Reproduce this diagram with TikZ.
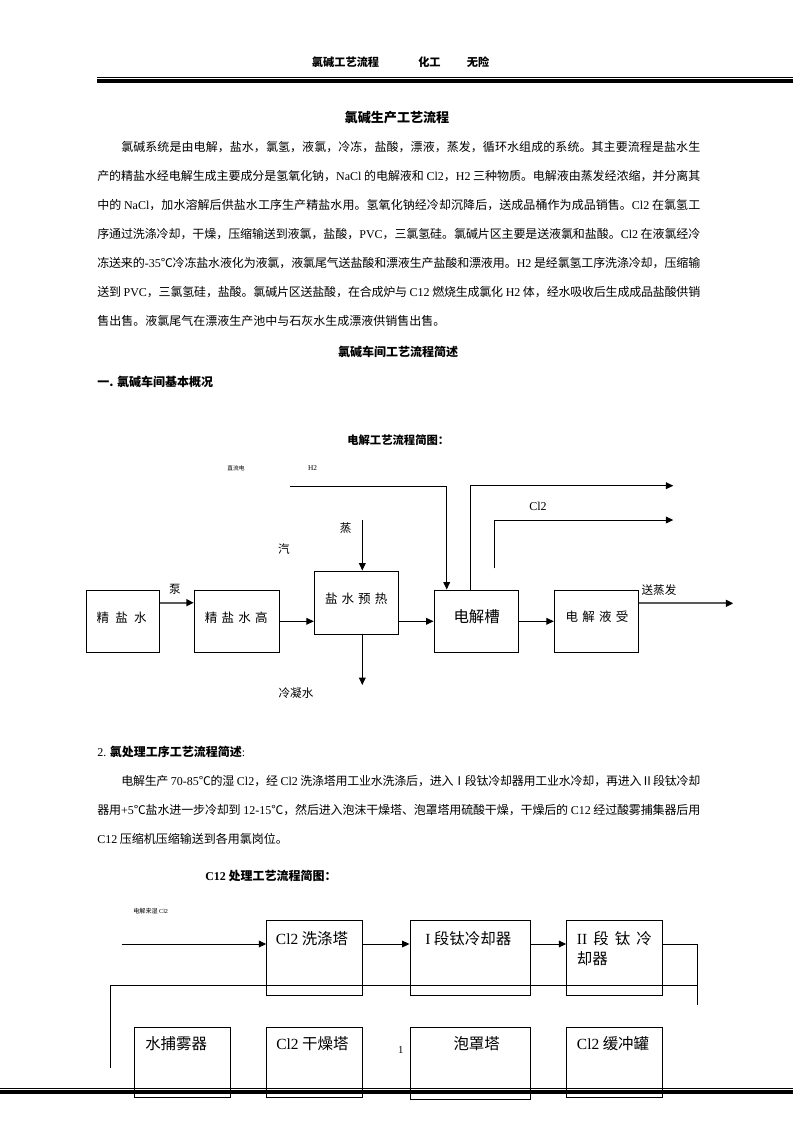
\documentclass[tikz,border=0pt]{standalone}
\usepackage{fontspec}
\setmainfont{Noto Sans CJK SC}
\newfontfamily\serf{Liberation Serif}
\usetikzlibrary{arrows.meta,fit,calc}
\newcommand\E[1]{{\serf #1}}
\XeTeXlinebreaklocale "zh"
\XeTeXlinebreakskip=0pt plus 3pt minus 1pt
\tolerance=9999
\tikzset{
  box/.style={draw=black,line width=0.75pt,inner sep=0pt},
  ln/.style={draw=black,line width=0.75pt},
  arr/.style={ln,-{Triangle[length=5.5pt,width=5pt]}},
  garr/.style={draw=black!65,line width=1.6pt,-{Triangle[length=5.5pt,width=5pt,color=black]}},
  txt/.style={inner sep=0pt,font=\fontsize{8.7pt}{10pt}\selectfont},
  btxt/.style={inner sep=0pt,font=\fontsize{9.4pt}{11pt}\selectfont},
  bigtxt/.style={inner sep=0pt,anchor=west,font=\fontsize{11.6pt}{14pt}\selectfont},
  head/.style={inner sep=0pt,font=\fontsize{9pt}{11pt}\selectfont\bfseries},
  para/.style={inner sep=0pt,anchor=base west,text width=452.25pt,align=justify,font=\fontsize{9pt}{21.75pt}\selectfont},
}
\begin{document}
\begin{tikzpicture}[x=0.75pt,y=-0.75pt]
\useasboundingbox (0,0) rectangle (793,1122);
\fill[white] (0,0) rectangle (793,1122);

% ---- page header ----
\node[inner sep=0pt,anchor=west,font=\fontsize{8.4pt}{10pt}\selectfont\bfseries] (h1) at (311.7,62) {氯碱工艺流程};
\node[inner sep=0pt,anchor=west,font=\fontsize{8.4pt}{10pt}\selectfont\bfseries] (h2) at (418,62) {化工};
\node[inner sep=0pt,anchor=west,font=\fontsize{8.4pt}{10pt}\selectfont\bfseries] (h3) at (466.7,62) {无险};
\draw[line width=0.75pt] (97,77.2) -- (793,77.2);
\draw[line width=2.7pt] (97,81) -- (793,81);

% ---- first text block ----
\node[head,font=\fontsize{9.8pt}{12pt}\selectfont\bfseries] (t0) at (397,118) {氯碱生产工艺流程};
\node[para] (p1) at (97,151.5) {\hspace*{2em}氯碱系统是由电解，盐水，氯氢，液氯，冷冻，盐酸，漂液，蒸发，循环水组成的系统。其主要流程是盐水生\linebreak
产的精盐水经电解生成主要成分是氢氧化钠，\E{NaCl} 的电解液和 \E{Cl2}，\E{H2} 三种物质。电解液由蒸发经浓缩，并分离其\linebreak
中的 \E{NaCl}，加水溶解后供盐水工序生产精盐水用。氢氧化钠经冷却沉降后，送成品桶作为成品销售。\E{Cl2} 在氯氢工\linebreak
序通过洗涤冷却，干燥，压缩输送到液氯，盐酸，\E{PVC}，三氯氢硅。氯碱片区主要是送液氯和盐酸。\E{Cl2} 在液氯经冷\linebreak
冻送来的\E{-35}℃冷冻盐水液化为液氯，液氯尾气送盐酸和漂液生产盐酸和漂液用。\E{H2} 是经氯氢工序洗涤冷却，压缩输\linebreak
送到 \E{PVC}，三氯氢硅，盐酸。氯碱片区送盐酸，在合成炉与 \E{C12} 燃烧生成氯化 \E{H2} 体，经水吸收后生成成品盐酸供销\linebreak
售出售。液氯尾气在漂液生产池中与石灰水生成漂液供销售出售。};
\node[head] (t1) at (398,352) {氯碱车间工艺流程简述};
\node[head,anchor=west] (t2) at (97,382) {一. 氯碱车间基本概况};

% ---- diagram 1 ----
\node[head,anchor=west,font=\fontsize{8.5pt}{10pt}\selectfont\bfseries] (t3) at (347,440) {电解工艺流程简图：};

\coordinate (a1) at (86,590);    \coordinate (b1) at (159,652.7);
\coordinate (a2) at (194.3,590); \coordinate (b2) at (279,652.7);
\coordinate (a3) at (314.3,571); \coordinate (b3) at (398.3,634.3);
\coordinate (a4) at (434,590);   \coordinate (b4) at (518.7,652.7);
\coordinate (a5) at (554.3,590); \coordinate (b5) at (638.3,652.7);
\node[box,fit=(a1)(b1)] (jy) {};
\node[box,fit=(a2)(b2)] (jyg) {};
\node[box,fit=(a3)(b3)] (ysr) {};
\node[box,fit=(a4)(b4)] (djc) {};
\node[box,fit=(a5)(b5)] (djy) {};

\node[btxt] (tjy) at (121.7,617.7) {\hbox to 37.5pt{精\hfil 盐\hfil 水}};
\node[btxt] (tjyg) at (236.3,617.7) {\hbox to 47pt{精\hfil 盐\hfil 水\hfil 高}};
\node[btxt] (tysr) at (356.2,598.3) {\hbox to 46.8pt{盐\hfil 水\hfil 预\hfil 热}};
\node[inner sep=0pt,font=\fontsize{11.6pt}{14pt}\selectfont] (tdjc) at (476.7,616.7) {电解槽};
\node[btxt] (tdjy) at (597,616.7) {\hbox to 47pt{电\hfil 解\hfil 液\hfil 受}};

\node[txt] (lb) at (175,589) {泵};
\node[txt] (lz) at (345.7,528) {蒸};
\node[txt] (lq) at (284,549) {汽};
\node[txt] (ll) at (296,693) {冷凝水};
\node[txt] (ls) at (659,590) {送蒸发};
\node[inner sep=0pt,font=\fontsize{9pt}{10pt}\selectfont\serf] (lc) at (538,506.7) {Cl2};
\node[inner sep=0pt,font=\fontsize{5.5pt}{6pt}\selectfont\serf] (lh) at (312.5,468) {H2};
\node[inner sep=0pt,font=\fontsize{4.3pt}{5pt}\selectfont] (ld) at (236,468) {直流电};

\coordinate (y1) at (0,602.7);
\coordinate (y2) at (0,621.3);
\coordinate (st) at (362.3,520);
\coordinate (cw) at (362.3,685);
\coordinate (h2s) at (290,486);
\coordinate (h2x) at (446.7,0);
\coordinate (o1x) at (470,0);
\coordinate (o1) at (673.3,485.7);
\coordinate (c2s) at (494,568.3);
\coordinate (c2e) at (673.3,520);
\coordinate (ev) at (733.3,603.3);

\draw[garr] (jy.east|-y1) -- (jyg.west|-y1);
\draw[arr] (jyg.east|-y2) -- (ysr.west|-y2);
\draw[arr] (ysr.east|-y2) -- (djc.west|-y2);
\draw[arr] (st) -- (st|-ysr.north);
\draw[arr] (cw|-ysr.south) -- (cw);
\draw[arr] (h2s) -| (h2x|-djc.north);
\draw[arr] (o1x|-djc.north) |- (o1);
\draw[arr] (c2s) |- (c2e);
\draw[arr] (djc.east|-y2) -- (djy.west|-y2);
\draw[garr] (djy.east|-ev) -- (ev);

% ---- second text block ----
\node[inner sep=0pt,anchor=west,font=\fontsize{9pt}{11pt}\selectfont] (t4) at (97,752) {\E{2.} {\bfseries 氯处理工序工艺流程简述}\E{:}};
\node[para] (p2) at (97,785.5) {\hspace*{2em}电解生产 \E{70-85}℃的湿 \E{Cl2}，经 \E{Cl2} 洗涤塔用工业水洗涤后，进入Ⅰ段钛冷却器用工业水冷却，再进入Ⅱ段钛冷却\linebreak
器用\E{+5}℃盐水进一步冷却到 \E{12-15}℃，然后进入泡沫干燥塔、泡罩塔用硫酸干燥，干燥后的 \E{C12} 经过酸雾捕集器后用\linebreak
\E{C12} 压缩机压缩输送到各用氯岗位。};
\node[head,anchor=west] (t5) at (205,876) {\E{\bfseries C12} 处理工艺流程简图：};

% ---- diagram 2 ----
\node[inner sep=0pt,anchor=west,font=\fontsize{4.6pt}{5pt}\selectfont] (lin) at (133,910.7) {电解来湿 \E{Cl2}};

\coordinate (c1) at (266.7,920);   \coordinate (e1) at (362.7,995);
\coordinate (c2) at (410,920);     \coordinate (e2) at (530,995);
\coordinate (c3) at (566.7,920);   \coordinate (e3) at (662.7,995);
\coordinate (c4) at (134.4,1027.3); \coordinate (e4) at (230.5,1097.7);
\coordinate (c5) at (266.5,1027.3); \coordinate (e5) at (362.7,1097.7);
\coordinate (c6) at (410,1027.3);   \coordinate (e6) at (530,1099.3);
\coordinate (c7) at (566.7,1027.3); \coordinate (e7) at (662.7,1097.7);
\node[box,fit=(c1)(e1)] (xdt) {};
\node[box,fit=(c2)(e2)] (d1) {};
\node[box,fit=(c3)(e3)] (d2) {};
\node[box,fit=(c4)(e4)] (sbw) {};
\node[box,fit=(c5)(e5)] (gzt) {};
\node[box,fit=(c6)(e6)] (pzt) {};
\node[box,fit=(c7)(e7)] (hcg) {};

\node[bigtxt] (txdt) at (275.7,938.3) {\E{Cl2} 洗涤塔};
\node[bigtxt] (td1) at (425,938.3) {\E{I} 段钛冷却器};
\node[bigtxt] (td2a) at (576.7,938.3) {\hbox to 56.2pt{\E{II}\hfil 段\hfil 钛\hfil 冷}};
\node[bigtxt] (td2b) at (576.7,958.3) {却器};
\node[bigtxt] (tsbw) at (145,1044) {水捕雾器};
\node[bigtxt] (tgzt) at (276,1044) {\E{Cl2} 干燥塔};
\node[bigtxt,anchor=center] (tpzt) at (476.7,1044) {泡罩塔};
\node[bigtxt] (thcg) at (576.7,1044) {\E{Cl2} 缓冲罐};

\coordinate (in2) at (121.7,944);
\coordinate (r1) at (697.7,1005);
\coordinate (l1) at (110.7,1068.3);
\coordinate (r2) at (697.7,985);
\draw[arr] (in2) -- (xdt.west|-in2);
\draw[arr] (xdt.east|-in2) -- (d1.west|-in2);
\draw[arr] (d1.east|-in2) -- (d2.west|-in2);
\draw[ln] (d2.east|-in2) -| (r1);
\draw[ln] (l1) |- (r2);

\node[inner sep=0pt,font=\fontsize{8pt}{9pt}\selectfont\serf] (pg) at (400.7,1050) {1};

% ---- page footer ----
\draw[line width=0.75pt] (0,1088.3) -- (793,1088.3);
\draw[line width=3pt] (0,1092.2) -- (793,1092.2);
\end{tikzpicture}
\end{document}
